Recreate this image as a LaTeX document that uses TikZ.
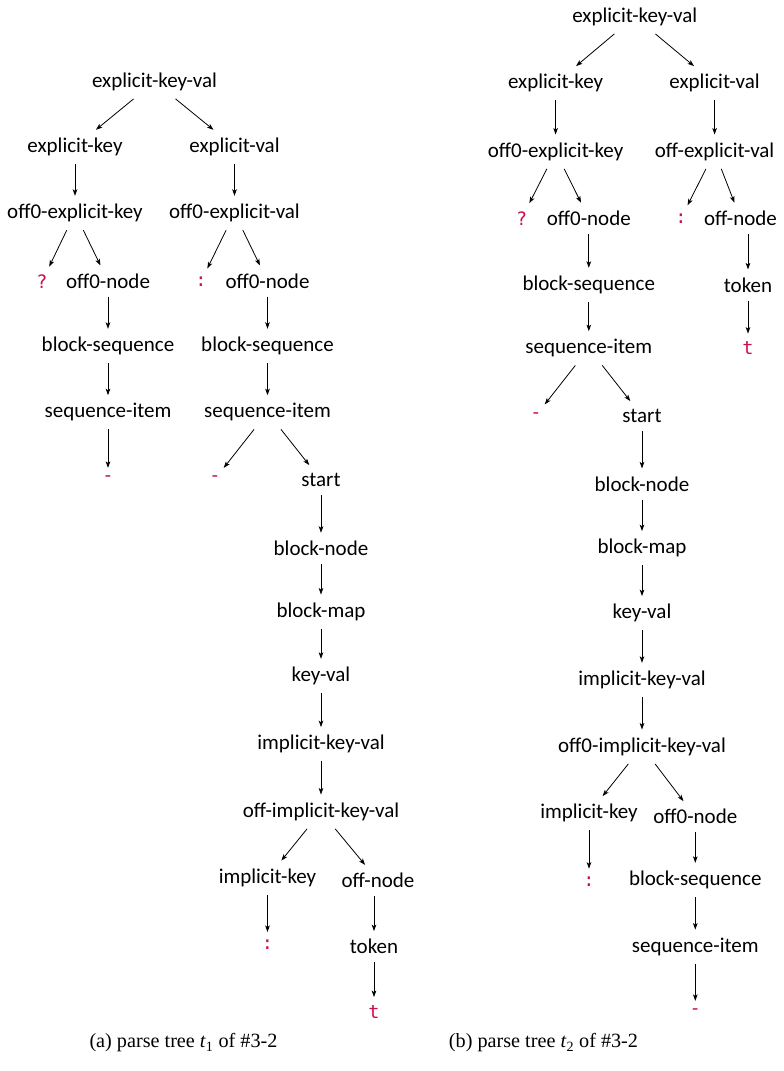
\documentclass[tikz,border=0pt]{standalone}
\usepackage{fontspec}
\setmainfont{Liberation Serif}
\newfontfamily\bio{Carlito}
\newfontfamily\tokfont{DejaVu Sans Mono}
\usetikzlibrary{arrows.meta}
\definecolor{tokred}{RGB}{200,16,80}
\tikzset{
  nd/.style={font=\bio\fontsize{21}{23}\selectfont, inner xsep=2pt, inner ysep=8pt, minimum width=22pt},
  tok/.style={nd, font=\tokfont\fontsize{18.5}{21}\selectfont, text=tokred},
  arr/.style={-{Stealth[length=6.5pt,width=4.6pt,inset=1.6pt]}, line width=0.8pt},
  captxt/.style={font=\fontsize{20.2}{22}\selectfont, inner sep=0pt}
}
\begin{document}
\begin{tikzpicture}[x=1pt,y=-1pt]
\useasboundingbox (0,0) rectangle (784,1071);
% ---------- tree (a) ----------
\node[nd] (a0) at (154.5,81.7) {explicit-key-val};
\node[nd] (a1) at (75,147) {explicit-key};
\node[nd] (a2) at (234.5,147) {explicit-val};
\node[nd] (a3) at (75,213) {off0-explicit-key};
\node[nd] (a4) at (234.5,213) {off0-explicit-val};
\node[tok] (a5) at (42,281.7) {?};
\node[nd] (a6) at (108,281) {off0-node};
\node[tok] (a7) at (201,281.5) {:};
\node[nd] (a8) at (267.5,281) {off0-node};
\node[nd] (a9) at (108,346) {block-sequence};
\node[nd] (a10) at (267.5,346) {block-sequence};
\node[nd] (a11) at (108,412.3) {sequence-item};
\node[nd] (a12) at (267.5,412.3) {sequence-item};
\node[tok] (a13) at (108,479) {-};
\node[tok] (a14) at (215,479) {-};
\node[nd] (a15) at (321,480) {start};
\node[nd] (a16) at (321,548.3) {block-node};
\node[nd] (a17) at (321,611.7) {block-map};
\node[nd] (a18) at (321,676) {key-val};
\node[nd] (a19) at (321,744.3) {implicit-key-val};
\node[nd] (a20) at (321,811.7) {off-implicit-key-val};
\node[nd] (a21) at (267.5,877.7) {implicit-key};
\node[nd] (a22) at (378,880.5) {off-node};
\node[tok] (a23) at (267.5,945) {:};
\node[nd] (a24) at (374,946.7) {token};
\node[tok] (a25) at (374,1011.7) {t};
\draw[arr] (a0) -- (a1);
\draw[arr] (a0) -- (a2);
\draw[arr] (a1) -- (a3);
\draw[arr] (a2) -- (a4);
\draw[arr] (a3) -- (a5);
\draw[arr] (a3) -- (a6);
\draw[arr] (a4) -- (a7);
\draw[arr] (a4) -- (a8);
\draw[arr] (a6) -- (a9);
\draw[arr] (a8) -- (a10);
\draw[arr] (a9) -- (a11);
\draw[arr] (a10) -- (a12);
\draw[arr] (a11) -- (a13);
\draw[arr] (a12) -- (a14);
\draw[arr] (a12) -- (a15);
\draw[arr] (a15) -- (a16);
\draw[arr] (a16) -- (a17);
\draw[arr] (a17) -- (a18);
\draw[arr] (a18) -- (a19);
\draw[arr] (a19) -- (a20);
\draw[arr] (a20) -- (a21);
\draw[arr] (a20) -- (a22);
\draw[arr] (a21) -- (a23);
\draw[arr] (a22.south -| a24.north) -- (a24.north);
\draw[arr] (a24) -- (a25);
% ---------- tree (b) ----------
\node[nd] (b0) at (634.8,16.7) {explicit-key-val};
\node[nd] (b1) at (555.6,83.3) {explicit-key};
\node[nd] (b2) at (714.6,83.3) {explicit-val};
\node[nd] (b3) at (555.6,151.7) {off0-explicit-key};
\node[nd] (b4) at (714.6,151.7) {off-explicit-val};
\node[tok] (b5) at (521.7,218.3) {?};
\node[nd] (b6) at (588.8,218.3) {off0-node};
\node[tok] (b7) at (681,218.3) {:};
\node[nd] (b8) at (740.5,218.3) {off-node};
\node[nd] (b9) at (588.8,285) {block-sequence};
\node[nd] (b10) at (748,285) {token};
\node[nd] (b11) at (588.8,348.3) {sequence-item};
\node[tok] (b12) at (748,348.3) {t};
\node[tok] (b13) at (536,415.5) {-};
\node[nd] (b14) at (642,416) {start};
\node[nd] (b15) at (642,484) {block-node};
\node[nd] (b16) at (642,548.3) {block-map};
\node[nd] (b17) at (642,613.3) {key-val};
\node[nd] (b18) at (642,680) {implicit-key-val};
\node[nd] (b19) at (642,746.7) {off0-implicit-key-val};
\node[nd] (b20) at (589,813.3) {implicit-key};
\node[nd] (b21) at (695.3,816.7) {off0-node};
\node[tok] (b22) at (589,881.7) {:};
\node[nd] (b23) at (695.3,880) {block-sequence};
\node[nd] (b24) at (695.3,946.7) {sequence-item};
\node[tok] (b25) at (695.3,1012) {-};
\draw[arr] (b0) -- (b1);
\draw[arr] (b0) -- (b2);
\draw[arr] (b1) -- (b3);
\draw[arr] (b2) -- (b4);
\draw[arr] (b3) -- (b5);
\draw[arr] (b3) -- (b6);
\draw[arr] (b4) -- (b7);
\draw[arr] (b4) -- (b8);
\draw[arr] (b6) -- (b9);
\draw[arr] (b8.south -| b10.north) -- (b10.north);
\draw[arr] (b9) -- (b11);
\draw[arr] (b10) -- (b12);
\draw[arr] (b11) -- (b13);
\draw[arr] (b11) -- (b14);
\draw[arr] (b14) -- (b15);
\draw[arr] (b15) -- (b16);
\draw[arr] (b16) -- (b17);
\draw[arr] (b17) -- (b18);
\draw[arr] (b18) -- (b19);
\draw[arr] (b19) -- (b20);
\draw[arr] (b19) -- (b21);
\draw[arr] (b20) -- (b22);
\draw[arr] (b21) -- (b23);
\draw[arr] (b23) -- (b24);
\draw[arr] (b24) -- (b25);
% ---------- captions ----------
\node[captxt] (capa) at (183.5,1043) {(a) parse tree \textit{t}\textsubscript{1} of \#3-2};
\node[captxt] (capb) at (543.5,1043) {(b) parse tree \textit{t}\textsubscript{2} of \#3-2};
\end{tikzpicture}
\end{document}
